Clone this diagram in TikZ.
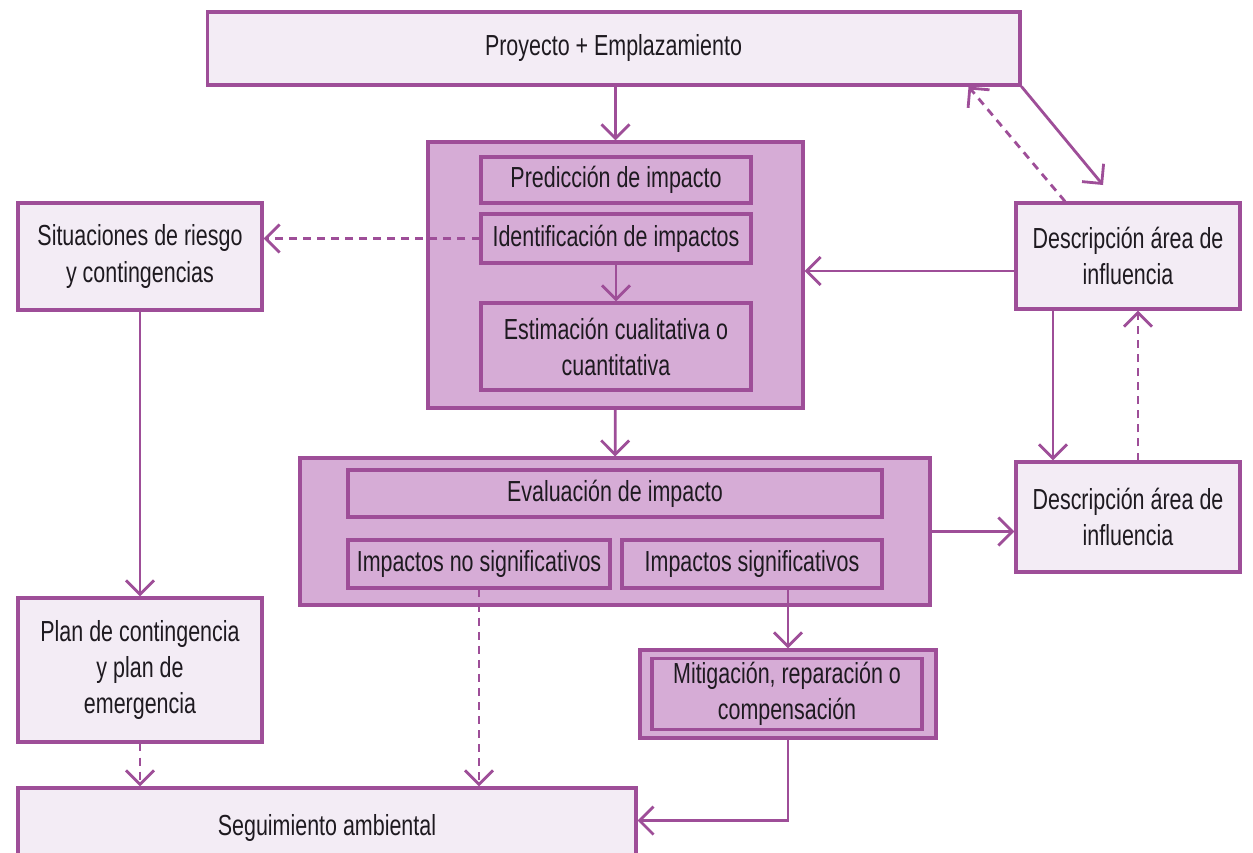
\documentclass[tikz,border=0pt]{standalone}
\usepackage{fontspec}
\setmainfont{Liberation Sans}[FakeStretch=0.74]
\usetikzlibrary{arrows.meta,positioning,calc}
\definecolor{edge}{RGB}{158,78,152}
\definecolor{lilac}{RGB}{243,236,245}
\definecolor{mauve}{RGB}{214,172,214}
\definecolor{ink}{RGB}{30,26,32}
\tikzset{
  box/.style={draw=edge,fill=#1,line width=1.8pt,align=center,text=ink,
    font=\fontsize{16.5}{20.5}\selectfont,inner sep=2pt},
  box/.default=lilac,
  group/.style={draw=edge,fill=mauve,line width=1.8pt},
  flow/.style={-{Straight Barb[length=2.8mm,width=5.6mm]},line width=1.6pt,draw=edge},
  dflow/.style={flow,dash pattern=on 4.5pt off 3.5pt},
}

\begin{document}
\begin{tikzpicture}[x=0.02cm,y=-0.02cm]
    \useasboundingbox (0,0) rectangle (1253,852);
    \clip (0,0) rectangle (1253,852);
    % top
    \node[box,minimum width=16.26cm,minimum height=1.46cm] (proj) at (613.5,48.5) {Proyecto + Emplazamiento};
    % prediction block
    \node[group,minimum width=7.5cm,minimum height=5.32cm] (pimp) at (615.5,275) {};
    \node[box=mauve,minimum width=5.4cm,minimum height=0.92cm] (pred) at (616,180) {Predicción de impacto};
    \node[box=mauve,minimum width=5.4cm,minimum height=0.98cm] (ident) at (616,238.5) {Identificación de impactos};
    \node[box=mauve,minimum width=5.4cm,minimum height=1.74cm] (estim) at (616,346.5) {Estimación cualitativa o\\cuantitativa};
    % evaluation block
    \node[group,minimum width=12.6cm,minimum height=2.94cm] (eimp) at (615,531.5) {};
    \node[box=mauve,minimum width=10.68cm,minimum height=0.94cm] (eval) at (615,493.5) {Evaluación de impacto};
    \node[box=mauve,minimum width=5.24cm,minimum height=0.96cm] (nosig) at (479,564) {Impactos no significativos};
    \node[box=mauve,minimum width=5.2cm,minimum height=0.96cm] (sig) at (752,564) {Impactos significativos};
    % mitigation
    \node[group,minimum width=5.92cm,minimum height=1.76cm] (mimp) at (788,694) {};
    \node[box=mauve,minimum width=5.4cm,minimum height=1.24cm] (mitig) at (787,694) {Mitigación, reparación o\\compensación};
    % left and right columns
    \node[box,minimum width=12.36cm,minimum height=1.6cm] (segui) at (327,828) {Seguimiento ambiental};
    \node[box,minimum width=4.88cm,minimum height=2.14cm] (riesgo) at (140,256.5) {Situaciones de riesgo\\y contingencias};
    \node[box,minimum width=4.88cm,minimum height=2.88cm] (plan) at (140,670) {Plan de contingencia\\y plan de\\emergencia};
    \node[box,minimum width=4.48cm,minimum height=2.12cm] (area) at (1128,256) {Descripción área de\\influencia};
    \node[box,minimum width=4.48cm,minimum height=2.2cm] (area2) at (1128,517) {Descripción área de\\influencia};
    % connectors
    \coordinate (ain) at ([yshift=-0.3cm]area.west);
    \coordinate (dtip) at (1103,185);
    \draw[flow] (proj.south -| pimp.north) -- (pimp.north);
    \draw[flow] (ident) -- (estim);
    \draw[flow] (pimp) -- (eimp);
    \draw[flow] (mimp.north |- sig.south) -- (mimp.north);
    \draw[flow] (mimp.south) |- ([yshift=0.15cm]segui.east);
    \draw[dflow] (nosig.south) -- (nosig.south |- segui.north);
    \draw[dflow] (ident.west) -- (riesgo.east |- ident.west);
    \draw[flow] (riesgo) -- (plan);
    \draw[dflow] (plan) -- (plan.south |- segui.north);
    \draw[flow] (ain) -- (ain -| pimp.east);
    \draw[flow] (eimp.east) -- (eimp.east -| area2.west);
    \draw[flow] ([xshift=-1.5cm]area.south) -- ([xshift=-1.5cm]area2.north);
    \draw[dflow] ([xshift=0.2cm]area2.north) -- ([xshift=0.2cm]area.south);
    \draw[flow] (proj.south east) -- (dtip);
    \draw[dflow] ([xshift=-1.26cm]area.north) -- ([xshift=-1.06cm]proj.south east);
\end{tikzpicture}
\end{document}
